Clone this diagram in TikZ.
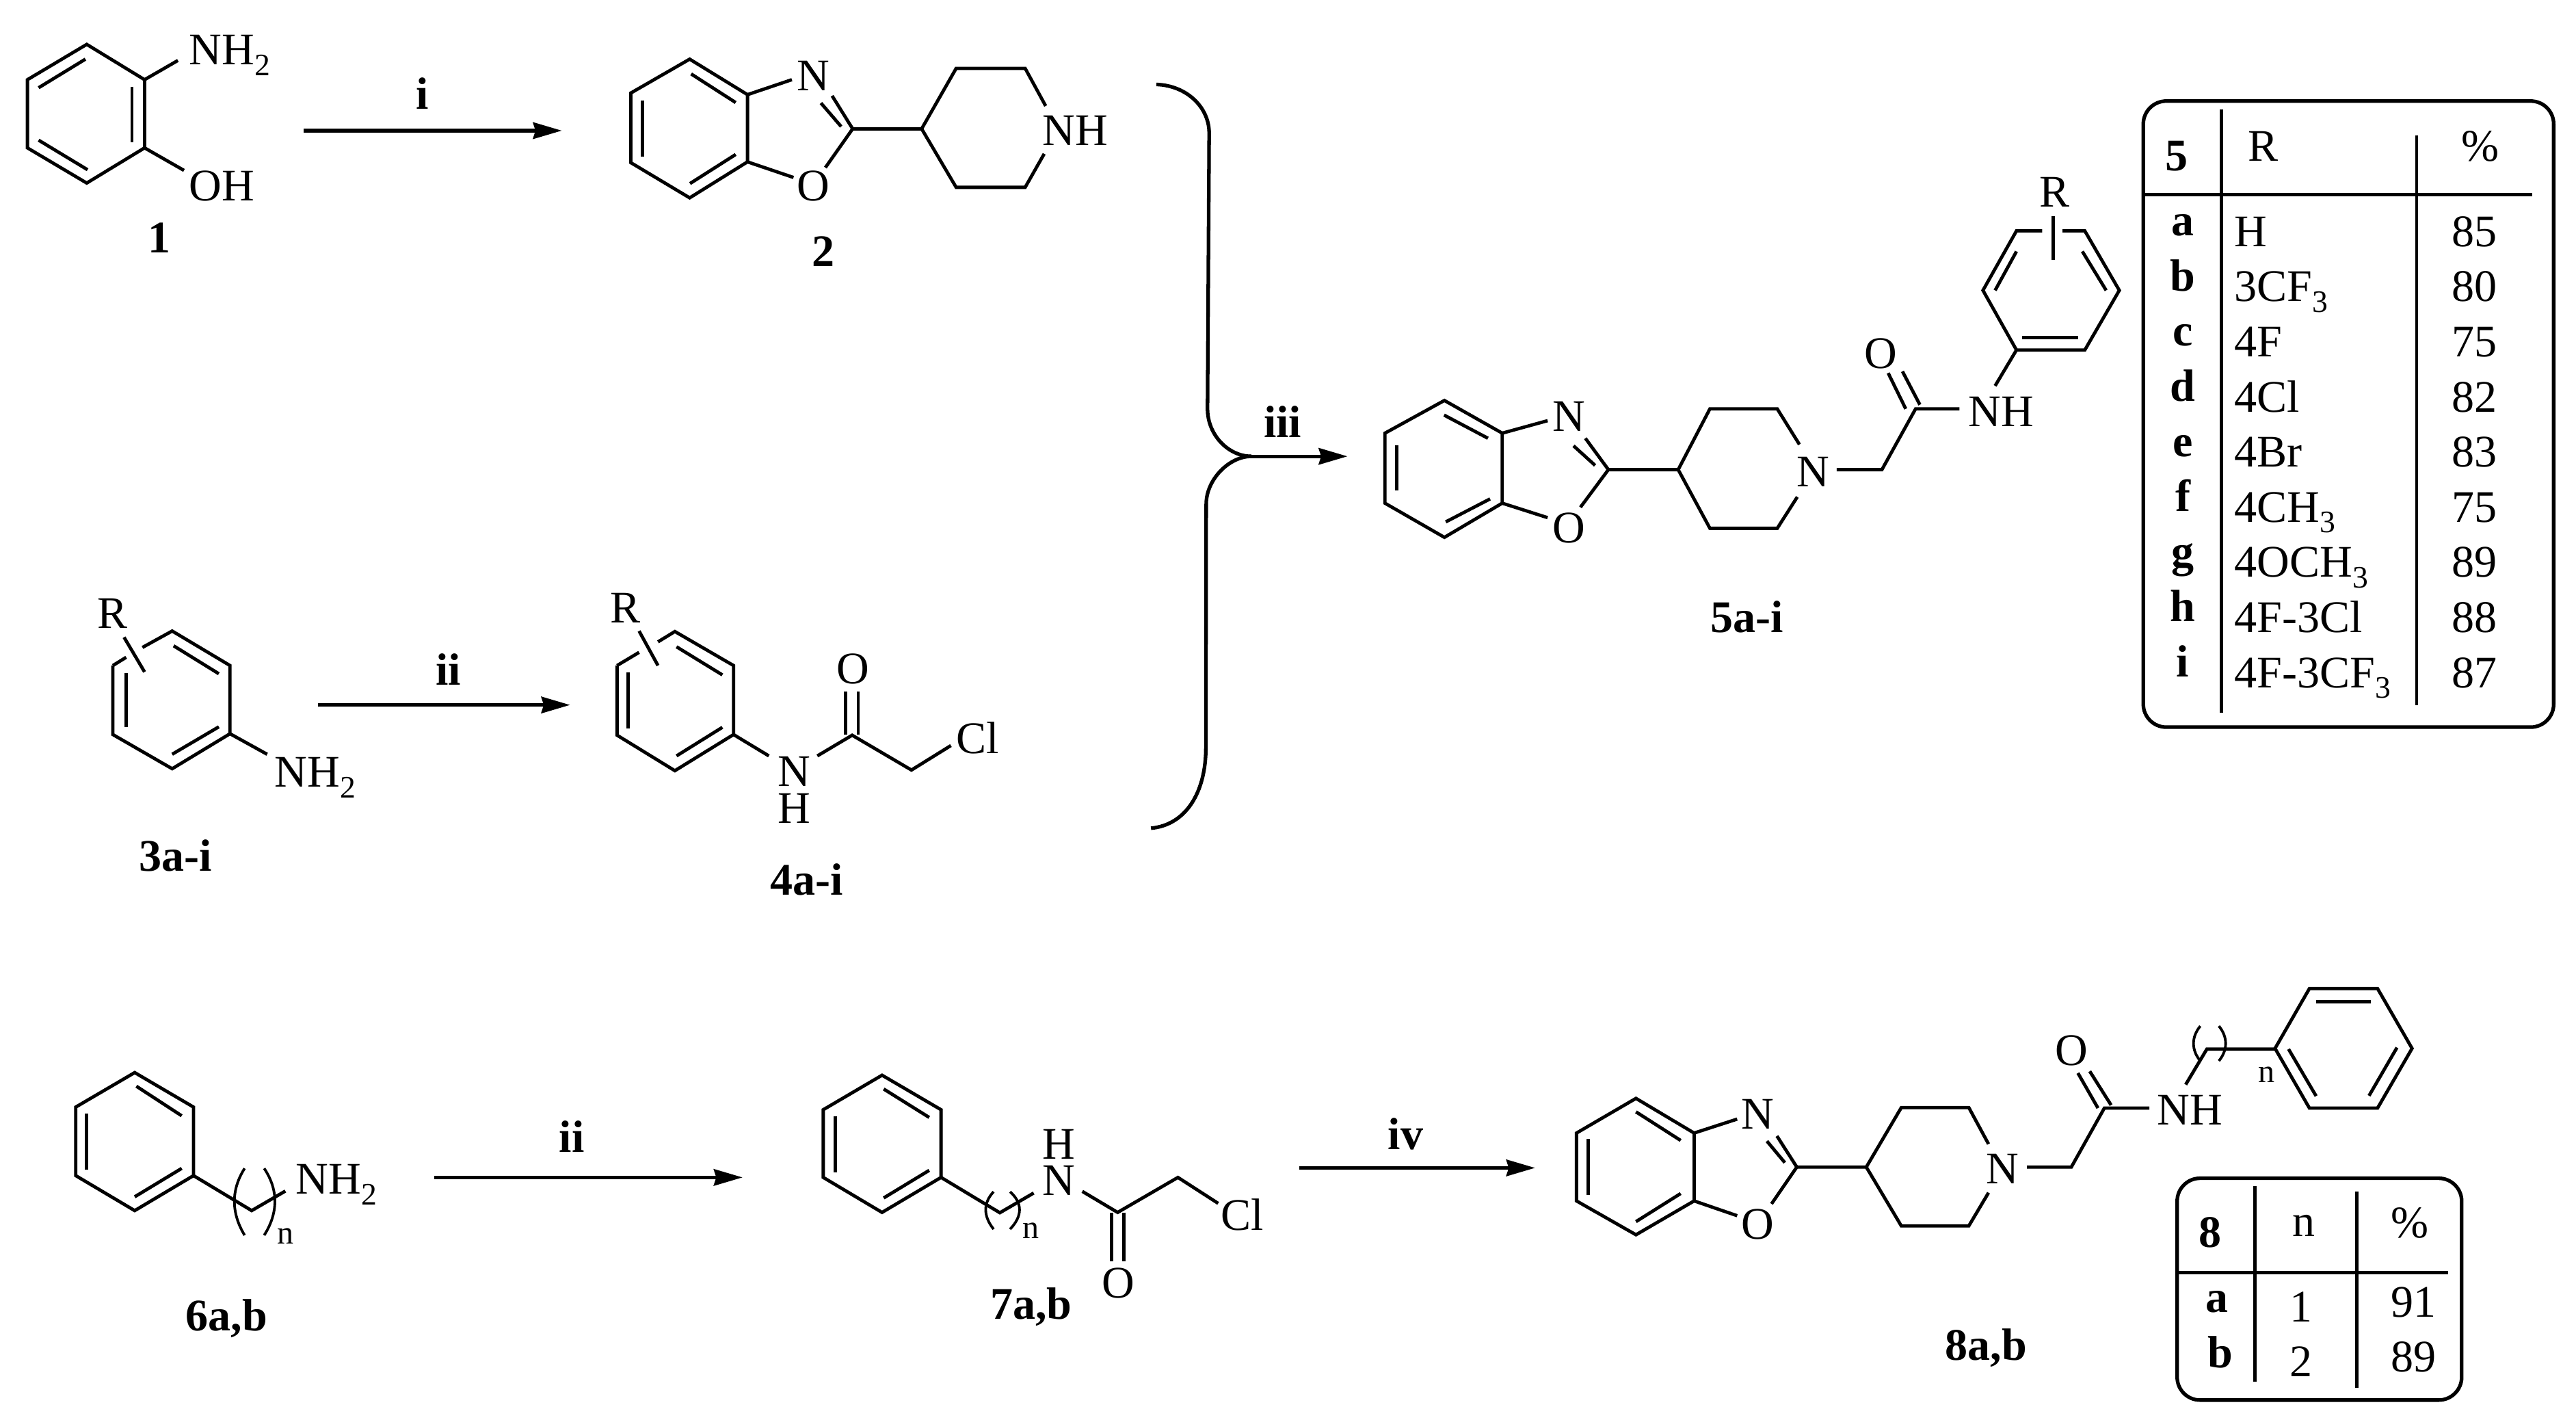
\documentclass[tikz,border=0pt]{standalone}
\usepackage{fontspec}
\usepackage{tikz}
\usetikzlibrary{arrows.meta}
\setmainfont{Liberation Serif}
\newcommand{\subs}[1]{\raisebox{-6.5pt}{\fontsize{19}{19}\selectfont #1}}
\tikzset{
  bond/.style={line width=2pt},
  rxn/.style={line width=2.1pt,-{Stealth[length=17.5pt,width=10pt,inset=1.5pt]}},
  tablebox/.style={line width=2.2pt,rounded corners=14pt},
  tablerule/.style={line width=2pt},
  atom/.style={inner sep=0pt},
  basetext/.style={inner sep=0pt,anchor=base},
  basewest/.style={inner sep=0pt,anchor=base west},
  cmpd/.style={inner sep=0pt,anchor=base,font=\fontsize{27.5}{30}\selectfont\bfseries},
  tiny n/.style={inner sep=0pt,anchor=base,font=\fontsize{20}{20}\selectfont}
}
\begin{document}
\begin{tikzpicture}[x=1pt,y=-1pt,font=\fontsize{27.5}{30}\selectfont]
\useasboundingbox (0,0) rectangle (1568,864.1);

\draw [bond] (52.8,27) -- (88,48.5) -- (88,90) -- (52.8,111.4) -- (16.7,90) -- (16.7,48.5) -- cycle;
\draw [bond] (80.3,52.7) -- (80.3,86.7);
\draw [bond] (23.5,53.4) -- (52,36);
\draw [bond] (23.5,85.3) -- (53.3,103.3);
\draw [bond] (88,48.5) -- (108.3,36.8);
\draw [bond] (88,90) -- (112,103.7);
\node [basewest] (nh2a) at (115,39.5) {NH\subs{2}};
\node [basewest] (oha) at (115,122) {OH};
\node [cmpd] (cmpda) at (97,154) {1};

\coordinate (ia) at (185,79.5);
\coordinate (ib) at (342,79.5);
\draw [rxn] (ia) -- (ib);
\node [cmpd] (stepi) at (257,66.6) {i};

\draw [bond] (419.8,36) -- (455,57.6) -- (455,98.5) -- (419.8,120.4) -- (384,99) -- (384,56.6) -- cycle;
\draw [bond] (447.8,62.4) -- (420.7,45);
\draw [bond] (391,61) -- (391,95.4);
\draw [bond] (447.8,94) -- (420,111.7);
\node [atom] (nb) at (495,46) {N};
\node [atom] (ob) at (495,113) {O};
\draw [bond] (455,57.6) -- (482,48.5);
\draw [bond] (455,98.5) -- (483,108);
\draw [bond] (506.5,58.3) -- (519,78.4) -- (502.4,102);
\draw [bond] (499.7,62.7) -- (512,77);
\draw [bond] (519,78.4) -- (561,78.4) -- (582,41.6) -- (624,41.6) -- (636.5,64.5);
\draw [bond] (561,78.4) -- (582,114) -- (624,114) -- (635.6,93.6);
\node [atom] (nhb) at (654.5,79.5) {NH};
\node [cmpd] (cmpdb) at (501,162) {2};

\coordinate (brk) at (761.7,277.7);
\coordinate (iiia) at (820.2,277.7);
\draw [bond,line width=2.2pt] (703.9,51.4) .. controls (722,52) and (736,65) .. (736,81) -- (735,248.7) .. controls (735,265) and (748,277.7) .. (brk);
\draw [bond,line width=2.2pt] (brk) .. controls (748,277.7) and (734.2,292) .. (734.2,306.7) -- (734,455) .. controls (734,482) and (722,502) .. (700.6,504);
\draw [rxn] (brk) -- (iiia);
\node [cmpd] (stepiii) at (780.7,266) {iii};

\draw [bond] (68.7,405) -- (68.7,447) -- (104.8,467.8) -- (140,446.5) -- (140,405) -- (104.8,384) -- (86.7,394);
\draw [bond] (76.8,400) -- (68.7,405);
\draw [bond] (76.8,409.7) -- (76.8,442.6);
\draw [bond] (105.7,393) -- (133.2,410);
\draw [bond] (104.8,459) -- (133.2,442.3);
\draw [bond] (75.5,387.8) -- (88,408.9);
\draw [bond] (140,446.5) -- (162.6,459);
\node [atom] (rc) at (68.3,373.5) {R};
\node [basewest] (nh2c) at (167,479) {NH\subs{2}};
\node [cmpd] (cmpdc) at (107,530) {3a-i};

\coordinate (iia) at (193.7,429);
\coordinate (iib) at (347,429);
\draw [rxn] (iia) -- (iib);
\node [cmpd] (stepii) at (273,417) {ii};

\draw [bond] (375.6,405) -- (375.6,447.4) -- (410.8,469) -- (446.5,447) -- (446.5,405) -- (410.8,384.3) -- (400.5,390.6);
\draw [bond] (389,397) -- (375.6,405);
\draw [bond] (382.4,409.3) -- (382.4,443.3);
\draw [bond] (411.8,393.6) -- (439.7,410.7);
\draw [bond] (411.8,460) -- (439.7,442.6);
\draw [bond] (389,384) -- (400.5,405);
\draw [bond] (446.5,447) -- (468,460);
\draw [bond] (497.5,460) -- (518.7,447.4) -- (554.8,468.6) -- (578.8,453.7);
\draw [bond] (514.7,447) -- (514.7,421);
\draw [bond] (522.4,447) -- (522.4,421);
\node [atom] (rd) at (380.5,370) {R};
\node [atom] (nd) at (483.5,469.5) {N};
\node [atom] (hd) at (483.5,492) {H};
\node [atom] (od) at (519,407) {O};
\node [atom] (cld) at (595,449) {Cl};
\node [cmpd] (cmpdd) at (491,544.5) {4a-i};

\draw [bond] (879.2,243.7) -- (914.4,263.6) -- (914.4,306.2) -- (879.2,327) -- (843,306.2) -- (843,263.6) -- cycle;
\draw [bond] (879,252.6) -- (905.7,266.7);
\draw [bond] (850.3,271) -- (850.3,298.5);
\draw [bond] (880,317.6) -- (907,303.6);
\node [atom] (ne) at (955,253.5) {N};
\node [atom] (oe) at (955,321.5) {O};
\draw [bond] (914.4,263.6) -- (942,256);
\draw [bond] (914.4,306.2) -- (942,315);
\draw [bond] (965,266.7) -- (979,285.8) -- (962,308.7);
\draw [bond] (970.9,283.2) -- (957.8,271.3);
\draw [bond] (979,285.8) -- (1021.5,285.8) -- (1040.8,248.8) -- (1081.8,248.8) -- (1095.3,270.5);
\draw [bond] (1021.5,285.8) -- (1040.8,321.5) -- (1081.8,321.5) -- (1094,302.4);
\node [atom] (npe) at (1103.5,287) {N};
\draw [bond] (1118,285.8) -- (1145.5,285.8) -- (1166,248.8) -- (1192.7,248.8);
\draw [bond] (1149.3,227) -- (1160,248.8);
\draw [bond] (1158,226) -- (1168.6,246.3);
\node [atom] (oce) at (1145,215) {O};
\node [atom] (nhe) at (1218,250.5) {NH};
\draw [bond] (1214.4,234.8) -- (1227.4,213);
\draw [bond] (1243,140.5) -- (1227.4,140.5) -- (1207,176.7) -- (1227.4,213) -- (1269,213) -- (1290,176.7) -- (1269,140.5) -- (1255.4,140.5);
\draw [bond] (1231,205.5) -- (1265,205.5);
\draw [bond] (1214.4,176.7) -- (1227.4,153);
\draw [bond] (1282,176.7) -- (1267.5,153);
\draw [bond] (1249.6,131.6) -- (1249.6,158.3);
\node [atom] (re) at (1250.5,117) {R};
\node [cmpd] (cmpde) at (1063.5,385) {5a-i};

\draw [tablebox] (1304.6,61.5) rectangle (1554.4,442.5);
\draw [tablerule] (1352,66.6) -- (1352,433.6);
\draw [tablerule] (1471,82.6) -- (1471,429);
\draw [tablerule] (1303.6,118.3) -- (1541.5,118.3);
\node [cmpd] (headfive) at (1325,104) {5};
\node [basetext] (headr) at (1377.5,98) {R};
\node [basetext] (headpc) at (1509.6,98) {\%};
\foreach \lt/\rl/\pc [count=\i from 0] in {a/H/85,b/3CF\subs{3}/80,c/4F/75,d/4Cl/82,e/4Br/83,f/4CH\subs{3}/75,g/4OCH\subs{3}/89,h/4F-3Cl/88,i/4F-3CF\subs{3}/87} {
  \pgfmathsetmacro\yb{150+33.55*\i}
  \pgfmathsetmacro\yl{\yb-6.5}
  \node [cmpd] (lt\i) at (1328.7,\yl) {\lt};
  \node [basewest] (rl\i) at (1360,\yb) {\rl};
  \node [basetext] (pc\i) at (1506,\yb) {\pc};
}

\draw [bond] (82,652.7) -- (117.8,673.7) -- (117.8,715.4) -- (82,736.7) -- (46.1,715.4) -- (46.1,673.7) -- cycle;
\draw [bond] (83,661) -- (110.6,679);
\draw [bond] (52.8,677.7) -- (52.8,711.7);
\draw [bond] (82,728.3) -- (110.6,711);
\draw [bond] (117.8,715.4) -- (153.2,736.7) -- (173.7,724.8);
\draw [bond,line width=1.6pt] (148.9,711) .. controls (140.6,724) and (140.6,738) .. (148.9,751.7);
\draw [bond,line width=1.6pt] (160.8,711) .. controls (169.5,724) and (169.5,738) .. (160.8,751.7);
\node [tiny n] (nf) at (173.7,757) {n};
\node [basewest] (nh2f) at (180,726.7) {NH\subs{2}};
\node [cmpd] (cmpdf) at (137.9,809.8) {6a,b};

\coordinate (iic) at (264.5,716.5);
\coordinate (iid) at (452,716.5);
\draw [rxn] (iic) -- (iid);
\node [cmpd] (stepiib) at (348,701) {ii};

\draw [bond] (536.9,654.3) -- (572.8,675.3) -- (572.8,716.5) -- (536.9,737.8) -- (501.1,716.5) -- (501.1,675.3) -- cycle;
\draw [bond] (537.9,662.7) -- (565.6,680);
\draw [bond] (508.3,679.3) -- (508.3,713.3);
\draw [bond] (537.9,729) -- (565.6,712.2);
\draw [bond] (572.8,716.5) -- (608.6,738) -- (629.2,726);
\draw [bond,line width=1.6pt] (604.8,725.2) .. controls (598.4,732) and (598.4,740) .. (604.8,748);
\draw [bond,line width=1.6pt] (614.8,725.2) .. controls (622.5,732) and (622.5,740) .. (614.8,748);
\node [tiny n] (ng) at (627.3,753.6) {n};
\node [atom] (ag) at (644.5,718.5) {N};
\node [atom] (hg) at (644.5,696.4) {H};
\draw [bond] (658.8,725) -- (680.3,737.8) -- (717,716.5) -- (741.5,732.3);
\draw [bond] (676.5,737.8) -- (676.5,767.6);
\draw [bond] (684.1,737.8) -- (684.1,767.6);
\node [atom] (og) at (680.8,780.7) {O};
\node [atom] (clg) at (756.3,739) {Cl};
\node [cmpd] (cmpdg) at (627.7,802.7) {7a,b};

\coordinate (iva) at (790.8,710.7);
\coordinate (ivb) at (934.4,710.7);
\draw [rxn] (iva) -- (ivb);
\node [cmpd] (stepiv) at (855.6,699.3) {iv};

\draw [bond] (995.8,668.4) -- (1031.2,689.5) -- (1031.2,730.8) -- (995.8,751.4) -- (959.6,730.8) -- (959.6,689.5) -- cycle;
\draw [bond] (995.8,676.6) -- (1023,694);
\draw [bond] (966.8,693) -- (966.8,727.2);
\draw [bond] (995.8,743.4) -- (1023,726.3);
\node [atom] (nh) at (1070,678) {N};
\node [atom] (oh) at (1070,745) {O};
\draw [bond] (1031.2,689.5) -- (1057.4,681);
\draw [bond] (1031.2,730.8) -- (1057.4,739.8);
\draw [bond] (1081.6,691.3) -- (1093.7,710.2) -- (1078.3,732.6);
\draw [bond] (1086.4,707.5) -- (1075.5,694.4);
\draw [bond] (1093.7,710.2) -- (1136,710.2) -- (1157.3,674) -- (1198.4,674) -- (1210.4,696.2);
\draw [bond] (1136,710.2) -- (1157.3,746) -- (1198.4,746) -- (1210.4,725.8);
\node [atom] (nph) at (1219,711.5) {N};
\draw [bond] (1233.8,710.2) -- (1260.8,710.2) -- (1280.9,674.3) -- (1308.3,674.3);
\draw [bond] (1264.8,653) -- (1277,674.3);
\draw [bond] (1272,651.9) -- (1285,672.5);
\node [atom] (och) at (1261,639.5) {O};
\node [atom] (nhh) at (1333,675.5) {NH};
\draw [bond] (1330.4,660) -- (1343.3,638.4) -- (1384.8,638.4);
\draw [bond,line width=1.6pt] (1339.3,624.4) .. controls (1333.8,631) and (1333.8,639) .. (1339.3,645.6);
\draw [bond,line width=1.6pt] (1350.6,624.4) .. controls (1356.1,631) and (1356.1,639) .. (1350.6,645.6);
\node [tiny n] (nnh) at (1379.6,658.5) {n};
\draw [bond] (1405.7,674.3) -- (1447.2,674.3) -- (1468.2,638) -- (1447.2,601.6) -- (1405.7,601.6) -- (1384.8,638) -- cycle;
\draw [bond] (1409.8,609.7) -- (1443.2,609.7);
\draw [bond] (1393,638.4) -- (1409.8,667);
\draw [bond] (1459,637.5) -- (1442,666.8);
\node [cmpd] (cmpdh) at (1209,827.7) {8a,b};

\draw [tablebox] (1325.2,717) rectangle (1498.4,852);
\draw [tablerule] (1372.7,721.8) -- (1372.7,841);
\draw [tablerule] (1434.7,725) -- (1434.7,844.7);
\draw [tablerule] (1324.4,774.4) -- (1490.3,774.4);
\node [cmpd] (headeight) at (1345.3,759) {8};
\node [basetext] (headn) at (1402.5,752.3) {n};
\node [basetext] (headpcb) at (1467,753) {\%};
\node [cmpd] (lta) at (1349.4,798.6) {a};
\node [cmpd] (ltb) at (1351.4,832.2) {b};
\node [basetext] (na) at (1400.5,804.4) {1};
\node [basetext] (nb2) at (1400.5,837.5) {2};
\node [basetext] (pca) at (1469,801.3) {91};
\node [basetext] (pcb) at (1469,834.9) {89};
\end{tikzpicture}
\end{document}
